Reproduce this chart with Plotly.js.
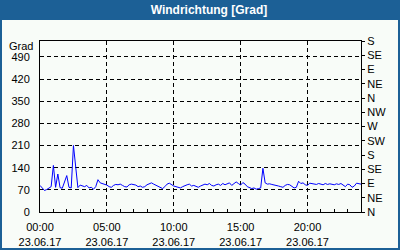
<!DOCTYPE html>
<html>
<head>
<meta charset="utf-8">
<script src="https://cdn.plot.ly/plotly-3.0.1.min.js"></script>
<style>
html,body{margin:0;padding:0;background:#1c6096;}
#chart{width:400px;height:250px;}
</style>
</head>
<body>
<div id="chart"></div>
<script>
// Wind direction readings every 10 minutes, 23.06.17 00:00 .. 24:00 (degrees)
const windDir = [
  84,76,68,71,75,80,
  147,78,120,77,75,95,
  115,78,76,210,130,77,
  85,82,80,84,76,78,
  72,80,102,92,90,88,
  85,80,78,84,87,86,
  88,84,80,79,86,88,
  87,85,80,82,78,80,
  86,90,92,88,84,82,
  78,74,80,88,91,86,
  82,80,77,76,80,84,
  86,88,82,84,80,78,
  82,85,88,86,90,84,
  82,86,88,84,90,86,
  88,92,84,89,95,90,
  85,93,88,80,78,74,
  76,72,74,76,138,92,
  88,89,87,86,84,82,
  80,78,84,87,86,80,
  76,78,97,90,92,86,
  84,91,90,88,87,90,
  88,86,90,87,89,88,
  86,89,87,90,85,80,
  88,86,78,82,91,90,
  88
];
const startTime = Date.UTC(2017,5,23,0,0);
const stepMs = 10*60*1000;
const times = windDir.map((v,i)=>new Date(startTime+i*stepMs).toISOString().slice(0,16).replace('T',' '));

const xTickVals = ['2017-06-23 00:00','2017-06-23 05:00','2017-06-23 10:00','2017-06-23 15:00','2017-06-23 20:00'];
const xTickText = ['00:00<br>23.06.17','05:00<br>23.06.17','10:00<br>23.06.17','15:00<br>23.06.17','20:00<br>23.06.17'];
const yTickVals = [0,70,140,210,280,350,420,490];
const compassVals = [0,45,90,135,180,225,270,315,360,405,450,495,540];
const compassText = ['N','NE','E','SE','S','SW','W','NW','N','NE','E','SE','S'];

const W=400,H=250, mL=40, mR=39, mT=41, mB=38;
const pw=W-mL-mR, ph=H-mT-mB;
const px=x=>(x-mL)/pw, py=y=>(H-mB-y)/ph;
const light='#f8fcf8';
const font={family:'Liberation Sans, Arial, sans-serif',size:11,color:'#000'};

const data=[
  {x:times,y:windDir,type:'scatter',mode:'lines',line:{color:'#0000ff',width:1},hoverinfo:'skip'},
  {x:[],y:[],type:'scatter',mode:'lines',yaxis:'y2',hoverinfo:'skip',showlegend:false}
];
const layout={
  width:W,height:H,
  margin:{l:mL,r:mR,t:mT,b:mB,pad:0},
  paper_bgcolor:'#1c6096',plot_bgcolor:light,
  showlegend:false,
  font:font,
  title:{text:'Windrichtung [Grad]',font:{family:'Liberation Sans, Arial, sans-serif',size:12,color:'#fff',weight:'bold'},
         xref:'container',yref:'container',x:209/400,y:1-10/250,xanchor:'center',yanchor:'middle'},
  shapes:[{type:'rect',xref:'paper',yref:'paper',x0:px(2),x1:px(398),y0:py(248),y1:py(20),
           fillcolor:light,line:{width:0},layer:'below'}],
  annotations:[{text:'Grad',xref:'paper',yref:'paper',x:px(35),y:py(46),xanchor:'right',yanchor:'middle',
                showarrow:false,font:font}],
  xaxis:{type:'date',range:['2017-06-23 00:00','2017-06-24 00:00'],
         tickmode:'array',tickvals:xTickVals,ticktext:xTickText,
         ticks:'inside',ticklen:3,tickcolor:'#000',tickwidth:1,
         minor:{dtick:3600000,ticks:'inside',ticklen:3,tickcolor:'#000',showgrid:false},
         showgrid:true,gridcolor:'#000',gridwidth:1,griddash:'4px,3px',
         showline:true,linecolor:'#000',linewidth:1,mirror:true,zeroline:false,
         ticklabelstandoff:5,tickfont:font,fixedrange:true},
  yaxis:{range:[0,540],tickmode:'array',tickvals:yTickVals,ticktext:yTickVals.map(String),
         ticks:'',showgrid:true,gridcolor:'#000',gridwidth:1,griddash:'4px,3px',
         showline:true,linecolor:'#000',linewidth:1,zeroline:false,
         ticklabelstandoff:7,tickfont:font,fixedrange:true},
  yaxis2:{range:[0,540],overlaying:'y',side:'right',tickmode:'array',tickvals:compassVals,ticktext:compassText,
          ticks:'outside',ticklen:3,tickcolor:'#000',showgrid:false,
          showline:true,linecolor:'#000',linewidth:1,zeroline:false,tickfont:font,fixedrange:true}
};
Plotly.newPlot('chart',data,layout,{staticPlot:true,displayModeBar:false});
</script>
</body>
</html>
